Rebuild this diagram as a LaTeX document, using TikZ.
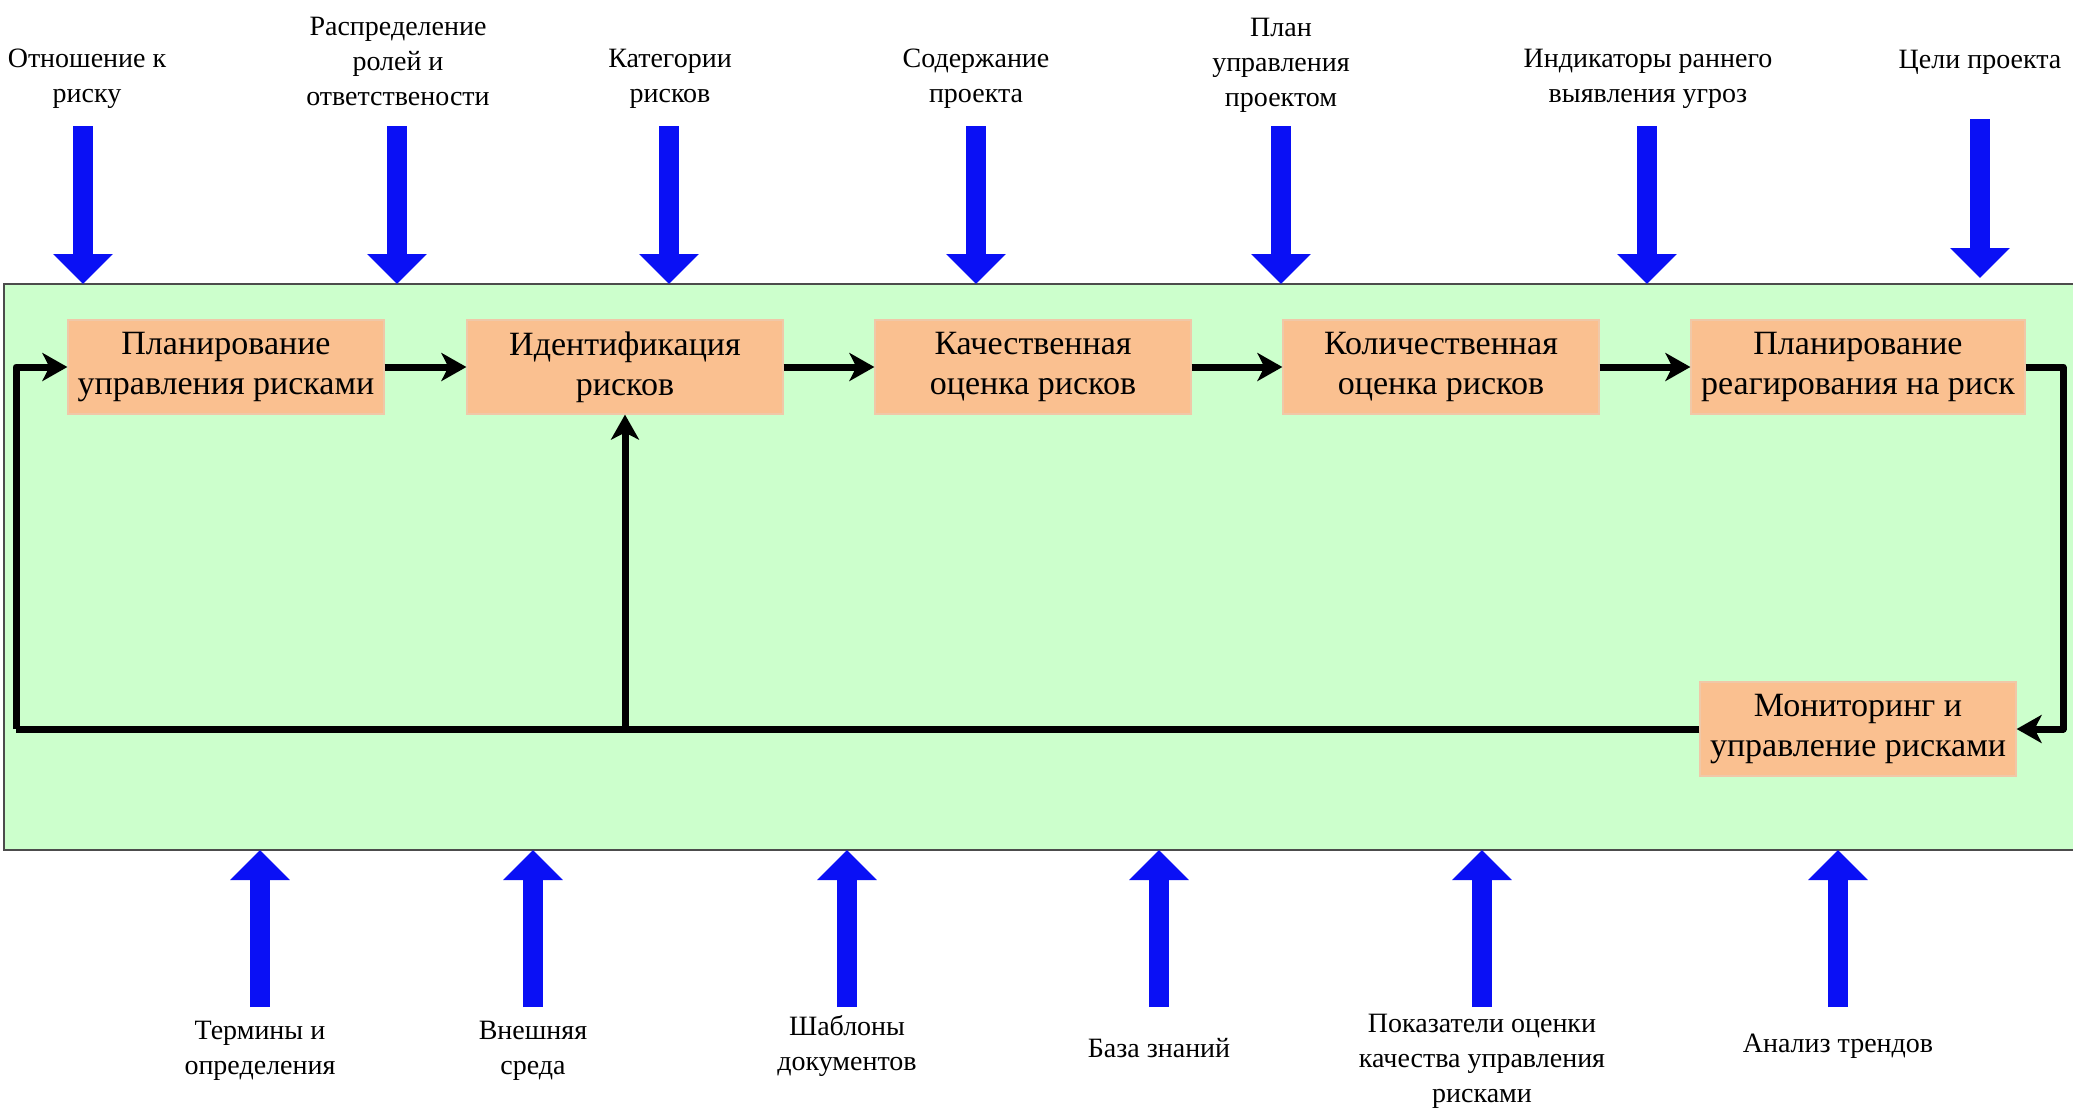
\documentclass[tikz,border=0pt]{standalone}
\usepackage{fontspec}
\setmainfont{Liberation Serif}
\usetikzlibrary{arrows.meta}
\definecolor{frameGreen}{HTML}{CCFFCC}
\definecolor{boxOrange}{HTML}{FAC090}
\definecolor{boxEdge}{HTML}{F0C8A8}
\definecolor{arrowBlue}{HTML}{0A10F5}
\tikzset{
  procbox/.style={draw=boxEdge, line width=1.2pt, fill=boxOrange, minimum width=316pt, minimum height=94pt,
    align=center, inner sep=0pt, font=\fontsize{34pt}{40pt}\selectfont},
  lbl/.style={align=center, inner sep=0pt, font=\fontsize{28pt}{35pt}\selectfont},
  bigarrow/.style={draw=arrowBlue, line width=20pt, -{Triangle[length=30pt,width=58pt]}},
  flow/.style={draw=black, line width=7pt, line join=round, -{Stealth[length=25pt,width=28pt,inset=7pt]}},
  flowline/.style={draw=black, line width=7pt, line join=round}
}
\begin{document}
\begin{tikzpicture}[x=1pt,y=-1pt]
\useasboundingbox (0,0) rectangle (2073,1109);
\fill[white] (0,0) rectangle (2073,1109);
% frame
\draw[draw=black!70, line width=1.5pt, fill=frameGreen] (4,284) rectangle (2090,850);

% process boxes
\node[procbox] (b1) at (226,367) {Планирование\\управления рисками};
\node[procbox] (b2) at (625,367) {Идентификация\\рисков};
\node[procbox] (b3) at (1033,367) {Качественная\\оценка рисков};
\node[procbox] (b4) at (1441,367) {Количественная\\оценка рисков};
\node[procbox, minimum width=334pt] (b5) at (1858,367) {Планирование\\реагирования на риск};
\node[procbox] (mon) at (1858,729) {Мониторинг и\\управление рисками};

% flow arrows
\draw[flow] (b1.east) -- (b2.west);
\draw[flow] (b2.east) -- (b3.west);
\draw[flow] (b3.east) -- (b4.west);
\draw[flow] (b4.east) -- (b5.west);
\coordinate (rtop) at (2063,367);
\coordinate (rbot) at (2063,729);
\draw[flow] (b5.east) -- (rtop) -- (rbot) -- (mon.east);
\coordinate (junc) at (625,729);
\coordinate (lbot) at (16,729);
\coordinate (ltop) at (16,367);
\draw[flowline] (mon.west) -- (junc) -- (lbot);
\draw[flow] (lbot) -- (ltop) -- (b1.west);
\draw[flow] (junc) -- (b2.south);

% top labels
\node[lbl] (t1) at (87,79) {Отношение к\\риску};
\node[lbl] (t2) at (398,61) {Распределение\\ролей и\\ответствености};
\node[lbl] (t3) at (670,79) {Категории\\рисков};
\node[lbl] (t4) at (976,79) {Содержание\\проекта};
\node[lbl] (t5) at (1281,65) {План\\управления\\проектом};
\node[lbl] (t6) at (1648,79) {Индикаторы раннего\\выявления угроз};
\node[lbl] (t7) at (1980,62) {Цели проекта};

% bottom labels
\node[lbl] (u1) at (260,1051) {Термины и\\определения};
\node[lbl] (u2) at (533,1051) {Внешняя\\среда};
\node[lbl] (u3) at (847,1046) {Шаблоны\\документов};
\node[lbl] (u4) at (1159,1048) {База знаний};
\node[lbl] (u5) at (1482,1061) {Показатели оценки\\качества управления\\рисками};
\node[lbl] (u6) at (1838,1046) {Анализ трендов};

% top blue arrows
\foreach \n/\x in {1/83,2/397,3/669,4/976,5/1281,6/1647}{
  \coordinate (ta\n) at (\x,126);
  \coordinate (tb\n) at (\x,284);
  \draw[bigarrow] (ta\n) -- (tb\n);
}
\coordinate (ta7) at (1980,119);
\coordinate (tb7) at (1980,278);
\draw[bigarrow] (ta7) -- (tb7);

% bottom blue arrows
\foreach \n/\x in {1/260,2/533,3/847,4/1159,5/1482,6/1838}{
  \coordinate (ba\n) at (\x,1007);
  \coordinate (bb\n) at (\x,850);
  \draw[bigarrow] (ba\n) -- (bb\n);
}
\end{tikzpicture}
\end{document}
